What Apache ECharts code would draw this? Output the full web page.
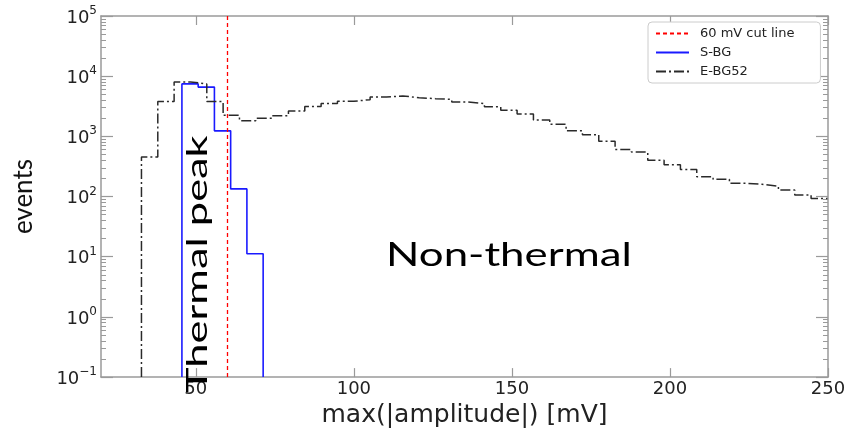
<!DOCTYPE html>
<html>
<head>
<meta charset="utf-8">
<script src="https://cdn.jsdelivr.net/npm/echarts@6/dist/echarts.min.js"></script>
<style>
html,body{margin:0;padding:0;background:#fff;}
#chart{width:853px;height:433px;}
</style>
</head>
<body>
<div id="chart"></div>
<script>
// ---- data ----
const xMin = 20, xMax = 250;
const xTickValues = [50, 100, 150, 200, 250];
const yTickValues = [0.1, 1, 10, 100, 1000, 10000, 100000];
const cutValue = 60;
const legendNames = ['60 mV cut line', 'S-BG', 'E-BG52'];

// S-BG histogram (bin edges start + width, counts)
const sbgFirstEdge = 45.6;
const sbgBinWidth = 5.14;
const sbgCounts = [7450, 6580, 1236, 134, 11.2];

// E-BG52 histogram
const ebgFirstEdge = 32.8;
const ebgBinWidth = 5.167;
const ebgCounts = [454, 3784, 8035, 7450, 3784, 2234, 1815, 1995, 2192, 2644,
                   3133, 3508, 3826, 4077, 4515, 4690, 4397, 4234, 4123, 3741,
                   3508, 3097, 2724, 2345, 1870, 1591, 1236, 1064, 830, 605,
                   548, 400, 336, 282, 214, 193, 166, 160, 149, 128,
                   106, 93];

const yMin = yTickValues[0], yMax = yTickValues[yTickValues.length - 1];

// step outline of a histogram (matplotlib histtype='step')
function stepPoints(first, width, counts, closeRight) {
  const pts = [[first, yMin]];
  counts.forEach((c, i) => {
    pts.push([first + i * width, c]);
    pts.push([first + (i + 1) * width, c]);
  });
  if (closeRight) pts.push([first + counts.length * width, yMin]);
  return pts;
}

// log minor tick positions (2..9 per decade)
const minorTicks = [];
for (let d = -1; d < 5; d++) {
  for (let m = 2; m <= 9; m++) minorTicks.push(+(m * Math.pow(10, d)).toPrecision(3));
}

const frameColor = '#9a9a9a';
const tickFont = 'DejaVu Sans';

function supLabel(v) {
  const e = Math.round(Math.log10(v));
  return '{b|10}{s|' + (e < 0 ? '\u2212' + (-e) : e) + '}';
}

const chart = echarts.init(document.getElementById('chart'), null, {renderer: 'canvas'});
const option = {
  animation: false,
  backgroundColor: '#ffffff',
  grid: {left: 101, right: 25, top: 16, bottom: 50, containLabel: false},
  legend: {
    orient: 'vertical',
    left: 648, top: 22,
    padding: [5, 26, 5, 7],
    itemWidth: 33, itemHeight: 12, itemGap: 6,
    borderColor: '#cccccc', borderWidth: 1, borderRadius: 4,
    backgroundColor: '#ffffff',
    itemStyle: {color: 'rgba(0,0,0,0)', borderColor: 'rgba(0,0,0,0)', borderWidth: 0, opacity: 0},
    textStyle: {fontFamily: tickFont, fontSize: 13, color: '#222', padding: [0, 0, 0, 6]},
    data: legendNames
  },
  xAxis: [
    {
      type: 'value', position: 'bottom', min: xMin, max: xMax,
      name: 'max(|amplitude|) [mV]', nameLocation: 'middle', nameGap: 19,
      nameTextStyle: {fontFamily: tickFont, fontSize: 25, color: '#222'},
      axisLine: {show: true, lineStyle: {color: frameColor, width: 1.5}},
      axisTick: {show: true, inside: true, length: 9, customValues: xTickValues, lineStyle: {color: frameColor, width: 1.2}},
      axisLabel: {show: true, customValues: xTickValues, margin: 3, fontFamily: tickFont, fontSize: 18, color: '#222'},
      splitLine: {show: false}
    },
    {
      type: 'value', position: 'top', min: xMin, max: xMax,
      axisLine: {show: true, lineStyle: {color: frameColor, width: 1.5}},
      axisTick: {show: true, inside: true, length: 9, customValues: xTickValues, lineStyle: {color: frameColor, width: 1.2}},
      axisLabel: {show: false},
      splitLine: {show: false}
    }
  ],
  yAxis: [
    {
      type: 'log', logBase: 10, position: 'left', min: yMin, max: yMax,
      name: 'events', nameLocation: 'middle', nameGap: 64, nameRotate: 90,
      nameTextStyle: {fontFamily: 'Lato', fontSize: 26, color: '#111'},
      axisLine: {show: true, lineStyle: {color: frameColor, width: 1.5}},
      axisTick: {show: true, inside: true, length: 12, customValues: yTickValues, lineStyle: {color: frameColor, width: 1.2}},
      axisLabel: {
        show: true, customValues: yTickValues, margin: 4,
        formatter: supLabel,
        rich: {
          b: {fontFamily: tickFont, fontSize: 18, color: '#222', lineHeight: 22, verticalAlign: 'bottom'},
          s: {fontFamily: tickFont, fontSize: 12, color: '#222', lineHeight: 14, verticalAlign: 'top'}
        }
      },
      splitLine: {show: false}
    },
    {
      type: 'log', logBase: 10, position: 'left', min: yMin, max: yMax,
      axisLine: {show: false},
      axisTick: {show: true, inside: true, length: 5, customValues: minorTicks, lineStyle: {color: frameColor, width: 1}},
      axisLabel: {show: false}, splitLine: {show: false}
    },
    {
      type: 'log', logBase: 10, position: 'right', min: yMin, max: yMax,
      axisLine: {show: true, lineStyle: {color: frameColor, width: 1.5}},
      axisTick: {show: true, inside: true, length: 12, customValues: yTickValues, lineStyle: {color: frameColor, width: 1.2}},
      axisLabel: {show: false}, splitLine: {show: false}
    },
    {
      type: 'log', logBase: 10, position: 'right', min: yMin, max: yMax,
      axisLine: {show: false},
      axisTick: {show: true, inside: true, length: 5, customValues: minorTicks, lineStyle: {color: frameColor, width: 1}},
      axisLabel: {show: false}, splitLine: {show: false}
    }
  ],
  series: [
    {
      name: legendNames[0], type: 'line', data: [],
      symbol: 'none',
      lineStyle: {color: '#ff0000', type: [4, 3], width: 1.3},
      itemStyle: {color: '#ff0000'},
      markLine: {
        silent: true, symbol: 'none', label: {show: false},
        lineStyle: {color: '#ff0000', type: [4, 3], width: 1.3},
        data: [{xAxis: cutValue}]
      },
      z: 2
    },
    {
      name: legendNames[1], type: 'line', xAxisIndex: 0, yAxisIndex: 0,
      data: stepPoints(sbgFirstEdge, sbgBinWidth, sbgCounts, true),
      symbol: 'none', showSymbol: false,
      lineStyle: {color: '#1a1aff', width: 1.6},
      itemStyle: {color: '#1a1aff'},
      z: 3
    },
    {
      name: legendNames[2], type: 'line', xAxisIndex: 0, yAxisIndex: 0,
      data: stepPoints(ebgFirstEdge, ebgBinWidth, ebgCounts, false),
      symbol: 'none', showSymbol: false,
      lineStyle: {color: '#2a2a2a', width: 1.5, type: [10, 3, 2, 3]},
      itemStyle: {color: '#2a2a2a'},
      z: 4
    }
  ],
  graphic: [
    {
      type: 'text', x: 386, y: 256, scaleX: 1.37, z: 10,
      style: {text: 'Non-thermal', font: '32px Lato', fill: '#000', align: 'left', verticalAlign: 'middle'}
    },
    {
      type: 'text', x: 198, y: 393, rotation: Math.PI / 2, scaleX: 1.55, z: 10,
      style: {text: 'Thermal peak', font: '28px Lato', fill: '#000', align: 'left', verticalAlign: 'middle'}
    }
  ]
};
chart.setOption(option);
</script>
</body>
</html>
